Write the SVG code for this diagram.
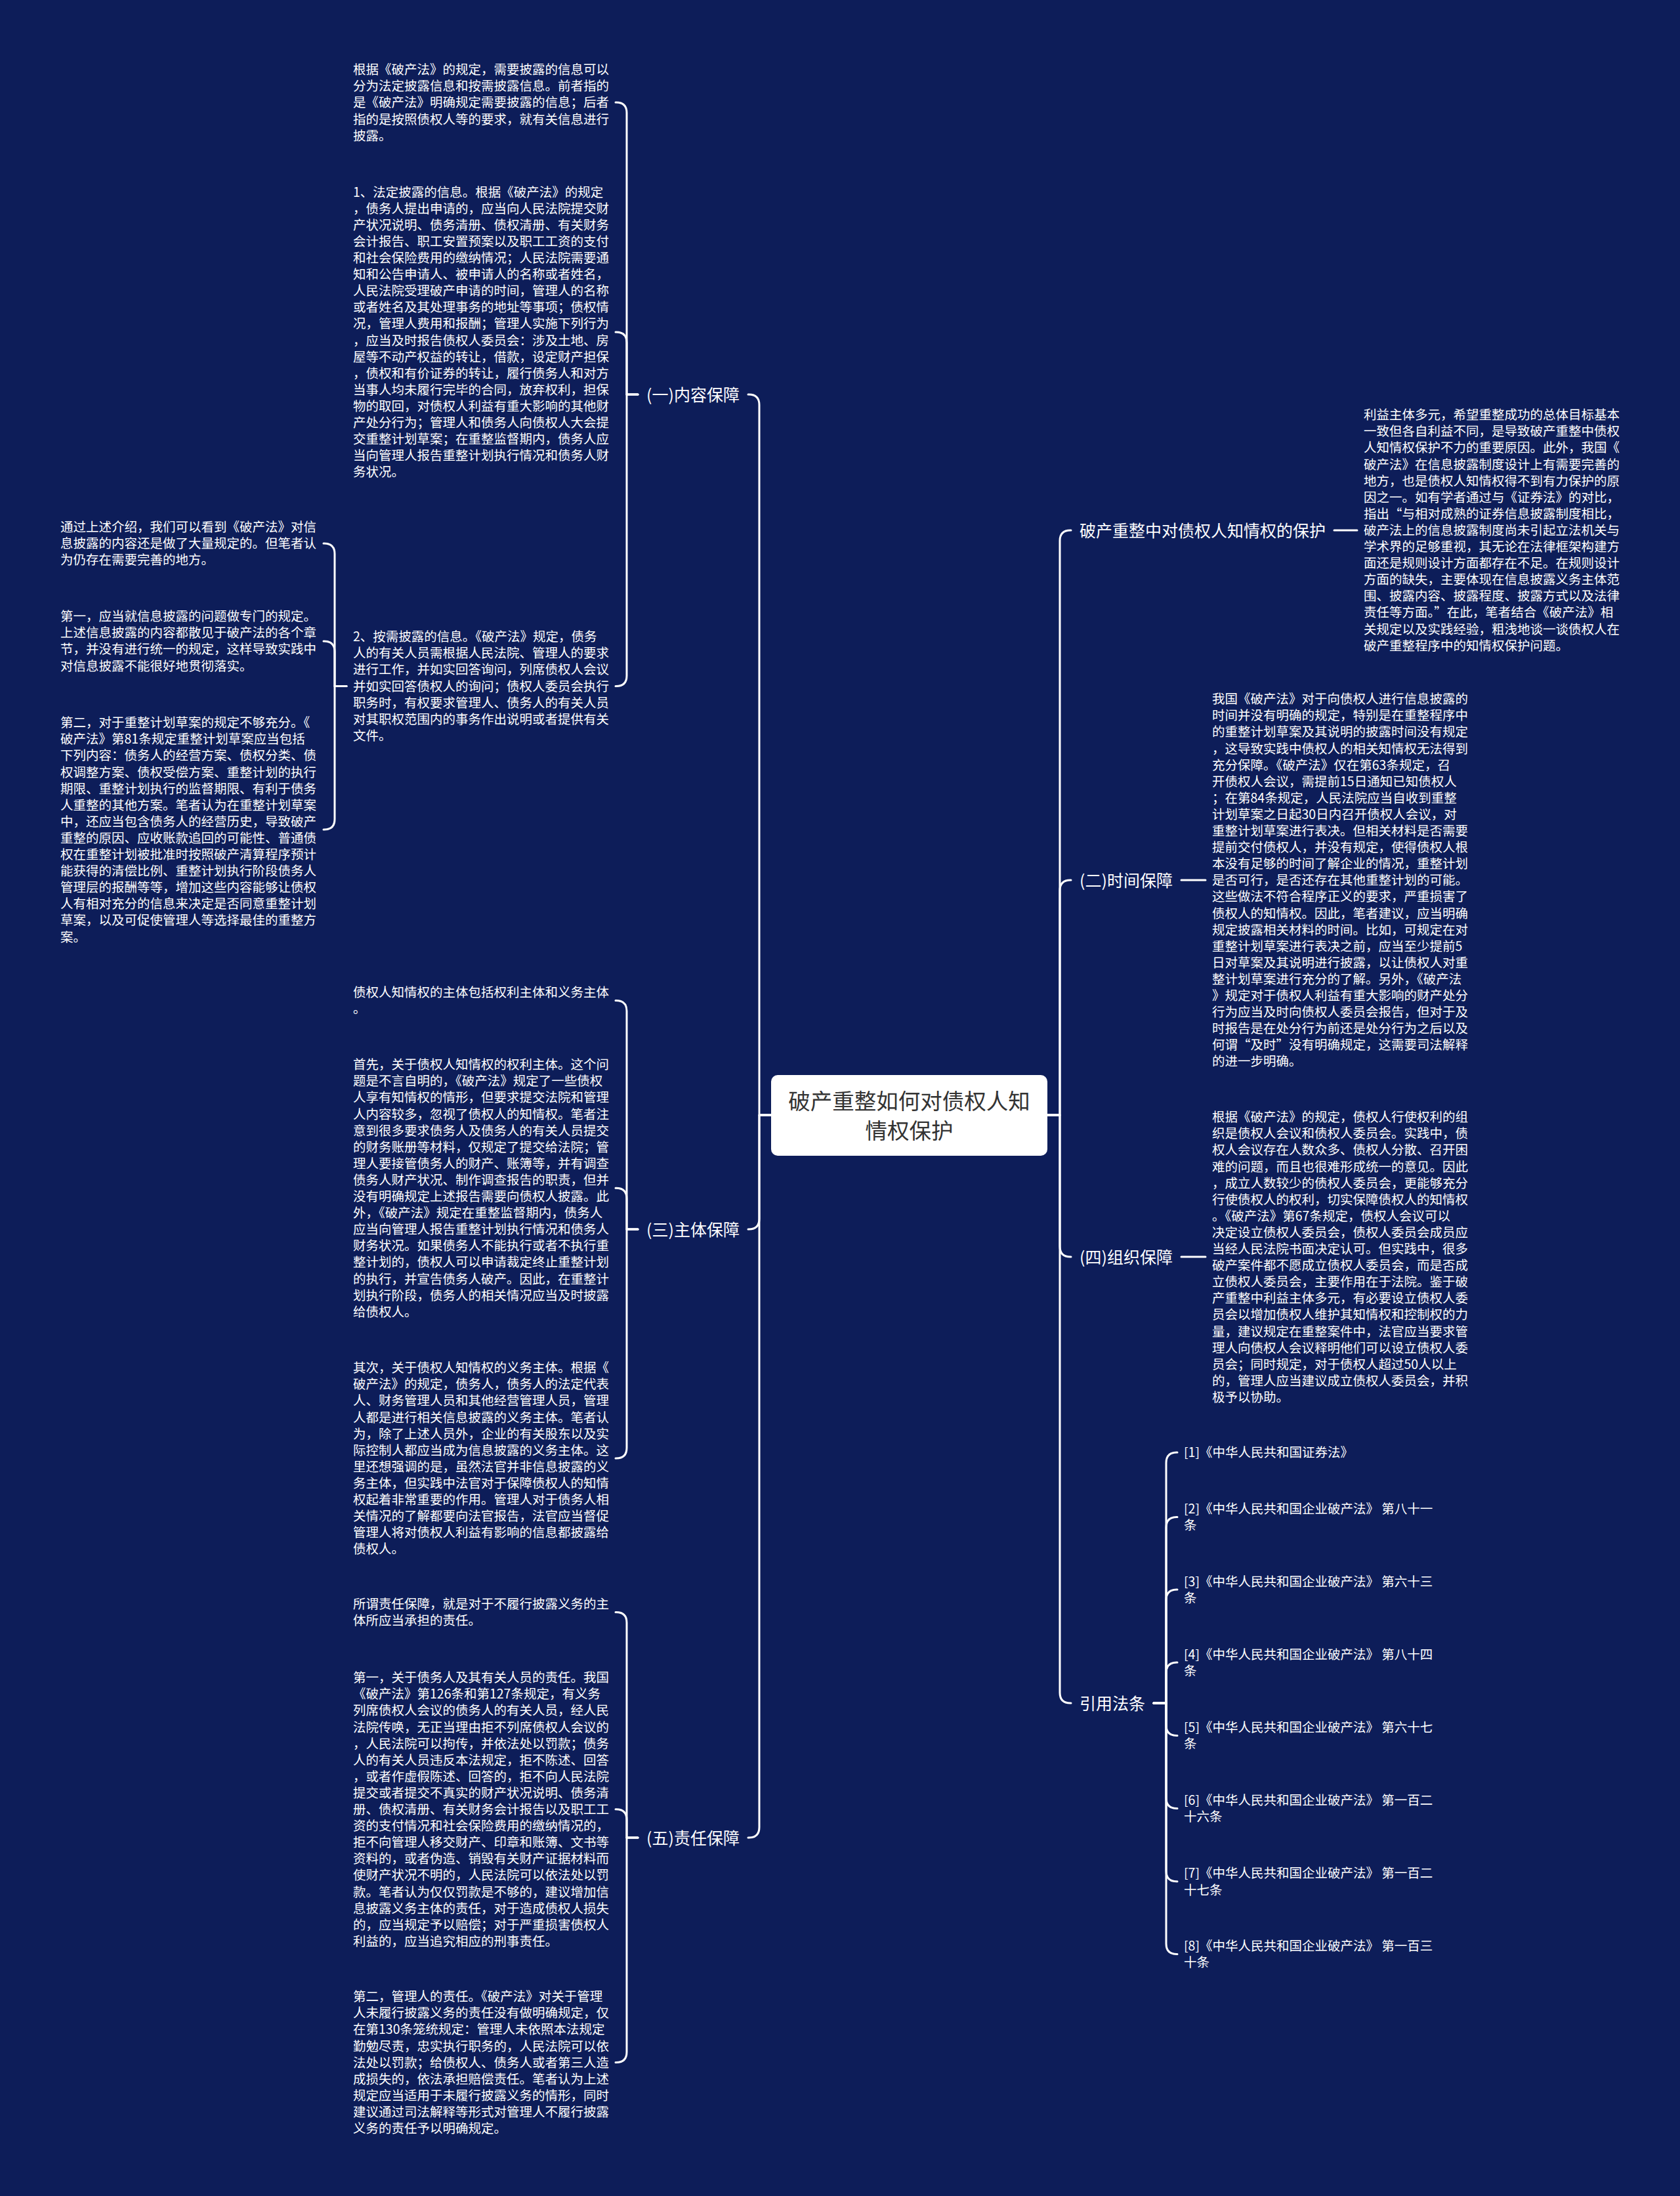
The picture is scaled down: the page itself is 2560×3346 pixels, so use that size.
<svg xmlns="http://www.w3.org/2000/svg" width="2560" height="3346" viewBox="0 0 2560 3346">
<style>
.t{font-family:"Noto Sans CJK SC","Noto Sans",sans-serif;font-size:19.5px;fill:#ffffff;}
.lbl{font-family:"Noto Sans CJK SC","Noto Sans",sans-serif;font-size:25px;fill:#ffffff;}
.ctr{font-family:"Noto Sans CJK SC","Noto Sans",sans-serif;font-size:33.5px;fill:#333333;text-anchor:middle;}
.c{fill:none;stroke:#ffffff;stroke-width:3;stroke-linecap:round;stroke-linejoin:round;}
</style>
<rect x="0" y="0" width="2560" height="3346" fill="#0d1d59"/>

<g id="connectors">
<path class="c" d="M1175 1699 H1157 V617 Q1157 601 1141 601 H1140"/>
<path class="c" d="M1175 1699 H1157 V1857 Q1157 1873 1141 1873 H1140"/>
<path class="c" d="M1175 1699 H1157 V2784 Q1157 2800 1141 2800 H1140"/>
<path class="c" d="M1596 1699 H1615 V824 Q1615 808 1631 808 H1632"/>
<path class="c" d="M1596 1699 H1615 V1357 Q1615 1341 1631 1341 H1632"/>
<path class="c" d="M1596 1699 H1615 V1899 Q1615 1915 1631 1915 H1632"/>
<path class="c" d="M1596 1699 H1615 V2579 Q1615 2595 1631 2595 H1632"/>
<path class="c" d="M972 601 H955 V172 Q955 156 939 156 H938"/>
<path class="c" d="M972 601 H955 V522 Q955 506 939 506 H938"/>
<path class="c" d="M972 601 H955 V1029.5 Q955 1045.5 939 1045.5 H938"/>
<path class="c" d="M528 1045.5 H510 V844 Q510 828 494 828 H493"/>
<path class="c" d="M528 1045.5 H510 V993 Q510 977 494 977 H493"/>
<path class="c" d="M528 1045.5 H510 V1248 Q510 1264 494 1264 H493"/>
<path class="c" d="M972 1873 H955 V1540.6 Q955 1524.6 939 1524.6 H938"/>
<path class="c" d="M972 1873 H955 V1826.3 Q955 1810.3 939 1810.3 H938"/>
<path class="c" d="M972 1873 H955 V2206 Q955 2222 939 2222 H938"/>
<path class="c" d="M972 2800 H955 V2472.6 Q955 2456.6 939 2456.6 H938"/>
<path class="c" d="M972 2800 H955 V2772.8 Q955 2756.8 939 2756.8 H938"/>
<path class="c" d="M972 2800 H955 V3126.4 Q955 3142.4 939 3142.4 H938"/>
<path class="c" d="M2033 808 H2068"/>
<path class="c" d="M1800 1341 H1837"/>
<path class="c" d="M1800 1915 H1837"/>
<path class="c" d="M1758 2595 H1777 V2229 Q1777 2213 1793 2213 H1794"/>
<path class="c" d="M1758 2595 H1777 V2327.4 Q1777 2311.4 1793 2311.4 H1794"/>
<path class="c" d="M1758 2595 H1777 V2438 Q1777 2422 1793 2422 H1794"/>
<path class="c" d="M1758 2595 H1777 V2549 Q1777 2533 1793 2533 H1794"/>
<path class="c" d="M1758 2595 H1777 V2628.5 Q1777 2644.5 1793 2644.5 H1794"/>
<path class="c" d="M1758 2595 H1777 V2739.4 Q1777 2755.4 1793 2755.4 H1794"/>
<path class="c" d="M1758 2595 H1777 V2850.8 Q1777 2866.8 1793 2866.8 H1794"/>
<path class="c" d="M1758 2595 H1777 V2961.6 Q1777 2977.6 1793 2977.6 H1794"/>
</g>

<g id="center">
<rect x="1175" y="1638" width="421" height="123" rx="10" ry="10" fill="#ffffff"/>
<text class="ctr" x="1385.5" y="1690">破产重整如何对债权人知<tspan x="1385.5" dy="45">情权保护</tspan></text>
</g>

<g id="branch-1">
<text class="lbl" x="1127" y="610.5" text-anchor="end">(一)内容保障</text>
</g>
<g id="branch-3">
<text class="lbl" x="1127" y="1882.5" text-anchor="end">(三)主体保障</text>
</g>
<g id="branch-5">
<text class="lbl" x="1127" y="2809.5" text-anchor="end">(五)责任保障</text>
</g>
<g id="branch-r1">
<text class="lbl" x="1645" y="817.5">破产重整中对债权人知情权的保护</text>
</g>
<g id="branch-2">
<text class="lbl" x="1645" y="1350.5">(二)时间保障</text>
</g>
<g id="branch-4">
<text class="lbl" x="1645" y="1924.5">(四)组织保障</text>
</g>
<g id="branch-ref">
<text class="lbl" x="1645" y="2604.5">引用法条</text>
</g>

<g id="node-a1">
<text class="t" x="538" y="113.2"><tspan x="538" dy="0">根据《破产法》的规定，需要披露的信息可以</tspan><tspan x="538" dy="25.1">分为法定披露信息和按需披露信息。前者指的</tspan><tspan x="538" dy="25.1">是《破产法》明确规定需要披露的信息；后者</tspan><tspan x="538" dy="25.1">指的是按照债权人等的要求，就有关信息进行</tspan><tspan x="538" dy="25.1">披露。</tspan></text>
</g>

<g id="node-a2">
<text class="t" x="538" y="299.6"><tspan x="538" dy="0">1、法定披露的信息。根据《破产法》的规定</tspan><tspan x="538" dy="25.1">，债务人提出申请的，应当向人民法院提交财</tspan><tspan x="538" dy="25.1">产状况说明、债务清册、债权清册、有关财务</tspan><tspan x="538" dy="25.1">会计报告、职工安置预案以及职工工资的支付</tspan><tspan x="538" dy="25.1">和社会保险费用的缴纳情况；人民法院需要通</tspan><tspan x="538" dy="25.1">知和公告申请人、被申请人的名称或者姓名，</tspan><tspan x="538" dy="25.1">人民法院受理破产申请的时间，管理人的名称</tspan><tspan x="538" dy="25.1">或者姓名及其处理事务的地址等事项；债权情</tspan><tspan x="538" dy="25.1">况，管理人费用和报酬；管理人实施下列行为</tspan><tspan x="538" dy="25.1">，应当及时报告债权人委员会：涉及土地、房</tspan><tspan x="538" dy="25.1">屋等不动产权益的转让，借款，设定财产担保</tspan><tspan x="538" dy="25.1">，债权和有价证券的转让，履行债务人和对方</tspan><tspan x="538" dy="25.1">当事人均未履行完毕的合同，放弃权利，担保</tspan><tspan x="538" dy="25.1">物的取回，对债权人利益有重大影响的其他财</tspan><tspan x="538" dy="25.1">产处分行为；管理人和债务人向债权人大会提</tspan><tspan x="538" dy="25.1">交重整计划草案；在重整监督期内，债务人应</tspan><tspan x="538" dy="25.1">当向管理人报告重整计划执行情况和债务人财</tspan><tspan x="538" dy="25.1">务状况。</tspan></text>
</g>

<g id="node-a3">
<text class="t" x="538" y="977.2"><tspan x="538" dy="0">2、按需披露的信息。《破产法》规定，债务</tspan><tspan x="538" dy="25.1">人的有关人员需根据人民法院、管理人的要求</tspan><tspan x="538" dy="25.1">进行工作，并如实回答询问，列席债权人会议</tspan><tspan x="538" dy="25.1">并如实回答债权人的询问；债权人委员会执行</tspan><tspan x="538" dy="25.1">职务时，有权要求管理人、债务人的有关人员</tspan><tspan x="538" dy="25.1">对其职权范围内的事务作出说明或者提供有关</tspan><tspan x="538" dy="25.1">文件。</tspan></text>
</g>

<g id="node-b1">
<text class="t" x="92" y="810.2"><tspan x="92" dy="0">通过上述介绍，我们可以看到《破产法》对信</tspan><tspan x="92" dy="25.1">息披露的内容还是做了大量规定的。但笔者认</tspan><tspan x="92" dy="25.1">为仍存在需要完善的地方。</tspan></text>
</g>

<g id="node-b2">
<text class="t" x="92" y="946.2"><tspan x="92" dy="0">第一，应当就信息披露的问题做专门的规定。</tspan><tspan x="92" dy="25.1">上述信息披露的内容都散见于破产法的各个章</tspan><tspan x="92" dy="25.1">节，并没有进行统一的规定，这样导致实践中</tspan><tspan x="92" dy="25.1">对信息披露不能很好地贯彻落实。</tspan></text>
</g>

<g id="node-b3">
<text class="t" x="92" y="1108.2"><tspan x="92" dy="0">第二，对于重整计划草案的规定不够充分。《</tspan><tspan x="92" dy="25.1">破产法》第81条规定重整计划草案应当包括</tspan><tspan x="92" dy="25.1">下列内容：债务人的经营方案、债权分类、债</tspan><tspan x="92" dy="25.1">权调整方案、债权受偿方案、重整计划的执行</tspan><tspan x="92" dy="25.1">期限、重整计划执行的监督期限、有利于债务</tspan><tspan x="92" dy="25.1">人重整的其他方案。笔者认为在重整计划草案</tspan><tspan x="92" dy="25.1">中，还应当包含债务人的经营历史，导致破产</tspan><tspan x="92" dy="25.1">重整的原因、应收账款追回的可能性、普通债</tspan><tspan x="92" dy="25.1">权在重整计划被批准时按照破产清算程序预计</tspan><tspan x="92" dy="25.1">能获得的清偿比例、重整计划执行阶段债务人</tspan><tspan x="92" dy="25.1">管理层的报酬等等，增加这些内容能够让债权</tspan><tspan x="92" dy="25.1">人有相对充分的信息来决定是否同意重整计划</tspan><tspan x="92" dy="25.1">草案，以及可促使管理人等选择最佳的重整方</tspan><tspan x="92" dy="25.1">案。</tspan></text>
</g>

<g id="node-c1">
<text class="t" x="538" y="1519.2"><tspan x="538" dy="0">债权人知情权的主体包括权利主体和义务主体</tspan><tspan x="538" dy="25.1">。</tspan></text>
</g>

<g id="node-c2">
<text class="t" x="538" y="1629.2"><tspan x="538" dy="0">首先，关于债权人知情权的权利主体。这个问</tspan><tspan x="538" dy="25.1">题是不言自明的，《破产法》规定了一些债权</tspan><tspan x="538" dy="25.1">人享有知情权的情形，但要求提交法院和管理</tspan><tspan x="538" dy="25.1">人内容较多，忽视了债权人的知情权。笔者注</tspan><tspan x="538" dy="25.1">意到很多要求债务人及债务人的有关人员提交</tspan><tspan x="538" dy="25.1">的财务账册等材料，仅规定了提交给法院；管</tspan><tspan x="538" dy="25.1">理人要接管债务人的财产、账簿等，并有调查</tspan><tspan x="538" dy="25.1">债务人财产状况、制作调查报告的职责，但并</tspan><tspan x="538" dy="25.1">没有明确规定上述报告需要向债权人披露。此</tspan><tspan x="538" dy="25.1">外，《破产法》规定在重整监督期内，债务人</tspan><tspan x="538" dy="25.1">应当向管理人报告重整计划执行情况和债务人</tspan><tspan x="538" dy="25.1">财务状况。如果债务人不能执行或者不执行重</tspan><tspan x="538" dy="25.1">整计划的，债权人可以申请裁定终止重整计划</tspan><tspan x="538" dy="25.1">的执行，并宣告债务人破产。因此，在重整计</tspan><tspan x="538" dy="25.1">划执行阶段，债务人的相关情况应当及时披露</tspan><tspan x="538" dy="25.1">给债权人。</tspan></text>
</g>

<g id="node-c3">
<text class="t" x="538" y="2091.2"><tspan x="538" dy="0">其次，关于债权人知情权的义务主体。根据《</tspan><tspan x="538" dy="25.1">破产法》的规定，债务人，债务人的法定代表</tspan><tspan x="538" dy="25.1">人、财务管理人员和其他经营管理人员，管理</tspan><tspan x="538" dy="25.1">人都是进行相关信息披露的义务主体。笔者认</tspan><tspan x="538" dy="25.1">为，除了上述人员外，企业的有关股东以及实</tspan><tspan x="538" dy="25.1">际控制人都应当成为信息披露的义务主体。这</tspan><tspan x="538" dy="25.1">里还想强调的是，虽然法官并非信息披露的义</tspan><tspan x="538" dy="25.1">务主体，但实践中法官对于保障债权人的知情</tspan><tspan x="538" dy="25.1">权起着非常重要的作用。管理人对于债务人相</tspan><tspan x="538" dy="25.1">关情况的了解都要向法官报告，法官应当督促</tspan><tspan x="538" dy="25.1">管理人将对债权人利益有影响的信息都披露给</tspan><tspan x="538" dy="25.1">债权人。</tspan></text>
</g>

<g id="node-d1">
<text class="t" x="538" y="2451.2"><tspan x="538" dy="0">所谓责任保障，就是对于不履行披露义务的主</tspan><tspan x="538" dy="25.1">体所应当承担的责任。</tspan></text>
</g>

<g id="node-d2">
<text class="t" x="538" y="2563.2"><tspan x="538" dy="0">第一，关于债务人及其有关人员的责任。我国</tspan><tspan x="538" dy="25.1">《破产法》第126条和第127条规定，有义务</tspan><tspan x="538" dy="25.1">列席债权人会议的债务人的有关人员，经人民</tspan><tspan x="538" dy="25.1">法院传唤，无正当理由拒不列席债权人会议的</tspan><tspan x="538" dy="25.1">，人民法院可以拘传，并依法处以罚款；债务</tspan><tspan x="538" dy="25.1">人的有关人员违反本法规定，拒不陈述、回答</tspan><tspan x="538" dy="25.1">，或者作虚假陈述、回答的，拒不向人民法院</tspan><tspan x="538" dy="25.1">提交或者提交不真实的财产状况说明、债务清</tspan><tspan x="538" dy="25.1">册、债权清册、有关财务会计报告以及职工工</tspan><tspan x="538" dy="25.1">资的支付情况和社会保险费用的缴纳情况的，</tspan><tspan x="538" dy="25.1">拒不向管理人移交财产、印章和账簿、文书等</tspan><tspan x="538" dy="25.1">资料的，或者伪造、销毁有关财产证据材料而</tspan><tspan x="538" dy="25.1">使财产状况不明的，人民法院可以依法处以罚</tspan><tspan x="538" dy="25.1">款。笔者认为仅仅罚款是不够的，建议增加信</tspan><tspan x="538" dy="25.1">息披露义务主体的责任，对于造成债权人损失</tspan><tspan x="538" dy="25.1">的，应当规定予以赔偿；对于严重损害债权人</tspan><tspan x="538" dy="25.1">利益的，应当追究相应的刑事责任。</tspan></text>
</g>

<g id="node-d3">
<text class="t" x="538" y="3049.2"><tspan x="538" dy="0">第二，管理人的责任。《破产法》对关于管理</tspan><tspan x="538" dy="25.1">人未履行披露义务的责任没有做明确规定，仅</tspan><tspan x="538" dy="25.1">在第130条笼统规定：管理人未依照本法规定</tspan><tspan x="538" dy="25.1">勤勉尽责，忠实执行职务的，人民法院可以依</tspan><tspan x="538" dy="25.1">法处以罚款；给债权人、债务人或者第三人造</tspan><tspan x="538" dy="25.1">成损失的，依法承担赔偿责任。笔者认为上述</tspan><tspan x="538" dy="25.1">规定应当适用于未履行披露义务的情形，同时</tspan><tspan x="538" dy="25.1">建议通过司法解释等形式对管理人不履行披露</tspan><tspan x="538" dy="25.1">义务的责任予以明确规定。</tspan></text>
</g>

<g id="node-r1">
<text class="t" x="2078" y="639.2"><tspan x="2078" dy="0">利益主体多元，希望重整成功的总体目标基本</tspan><tspan x="2078" dy="25.1">一致但各自利益不同，是导致破产重整中债权</tspan><tspan x="2078" dy="25.1">人知情权保护不力的重要原因。此外，我国《</tspan><tspan x="2078" dy="25.1">破产法》在信息披露制度设计上有需要完善的</tspan><tspan x="2078" dy="25.1">地方，也是债权人知情权得不到有力保护的原</tspan><tspan x="2078" dy="25.1">因之一。如有学者通过与《证券法》的对比，</tspan><tspan x="2078" dy="25.1">指出“与相对成熟的证券信息披露制度相比，</tspan><tspan x="2078" dy="25.1">破产法上的信息披露制度尚未引起立法机关与</tspan><tspan x="2078" dy="25.1">学术界的足够重视，其无论在法律框架构建方</tspan><tspan x="2078" dy="25.1">面还是规则设计方面都存在不足。在规则设计</tspan><tspan x="2078" dy="25.1">方面的缺失，主要体现在信息披露义务主体范</tspan><tspan x="2078" dy="25.1">围、披露内容、披露程度、披露方式以及法律</tspan><tspan x="2078" dy="25.1">责任等方面。”在此，笔者结合《破产法》相</tspan><tspan x="2078" dy="25.1">关规定以及实践经验，粗浅地谈一谈债权人在</tspan><tspan x="2078" dy="25.1">破产重整程序中的知情权保护问题。</tspan></text>
</g>

<g id="node-r2">
<text class="t" x="1847" y="1072.2"><tspan x="1847" dy="0">我国《破产法》对于向债权人进行信息披露的</tspan><tspan x="1847" dy="25.1">时间并没有明确的规定，特别是在重整程序中</tspan><tspan x="1847" dy="25.1">的重整计划草案及其说明的披露时间没有规定</tspan><tspan x="1847" dy="25.1">，这导致实践中债权人的相关知情权无法得到</tspan><tspan x="1847" dy="25.1">充分保障。《破产法》仅在第63条规定，召</tspan><tspan x="1847" dy="25.1">开债权人会议，需提前15日通知已知债权人</tspan><tspan x="1847" dy="25.1">；在第84条规定，人民法院应当自收到重整</tspan><tspan x="1847" dy="25.1">计划草案之日起30日内召开债权人会议，对</tspan><tspan x="1847" dy="25.1">重整计划草案进行表决。但相关材料是否需要</tspan><tspan x="1847" dy="25.1">提前交付债权人，并没有规定，使得债权人根</tspan><tspan x="1847" dy="25.1">本没有足够的时间了解企业的情况，重整计划</tspan><tspan x="1847" dy="25.1">是否可行，是否还存在其他重整计划的可能。</tspan><tspan x="1847" dy="25.1">这些做法不符合程序正义的要求，严重损害了</tspan><tspan x="1847" dy="25.1">债权人的知情权。因此，笔者建议，应当明确</tspan><tspan x="1847" dy="25.1">规定披露相关材料的时间。比如，可规定在对</tspan><tspan x="1847" dy="25.1">重整计划草案进行表决之前，应当至少提前5</tspan><tspan x="1847" dy="25.1">日对草案及其说明进行披露，以让债权人对重</tspan><tspan x="1847" dy="25.1">整计划草案进行充分的了解。另外，《破产法</tspan><tspan x="1847" dy="25.1">》规定对于债权人利益有重大影响的财产处分</tspan><tspan x="1847" dy="25.1">行为应当及时向债权人委员会报告，但对于及</tspan><tspan x="1847" dy="25.1">时报告是在处分行为前还是处分行为之后以及</tspan><tspan x="1847" dy="25.1">何谓“及时”没有明确规定，这需要司法解释</tspan><tspan x="1847" dy="25.1">的进一步明确。</tspan></text>
</g>

<g id="node-r3">
<text class="t" x="1847" y="1709.2"><tspan x="1847" dy="0">根据《破产法》的规定，债权人行使权利的组</tspan><tspan x="1847" dy="25.1">织是债权人会议和债权人委员会。实践中，债</tspan><tspan x="1847" dy="25.1">权人会议存在人数众多、债权人分散、召开困</tspan><tspan x="1847" dy="25.1">难的问题，而且也很难形成统一的意见。因此</tspan><tspan x="1847" dy="25.1">，成立人数较少的债权人委员会，更能够充分</tspan><tspan x="1847" dy="25.1">行使债权人的权利，切实保障债权人的知情权</tspan><tspan x="1847" dy="25.1">。《破产法》第67条规定，债权人会议可以</tspan><tspan x="1847" dy="25.1">决定设立债权人委员会，债权人委员会成员应</tspan><tspan x="1847" dy="25.1">当经人民法院书面决定认可。但实践中，很多</tspan><tspan x="1847" dy="25.1">破产案件都不愿成立债权人委员会，而是否成</tspan><tspan x="1847" dy="25.1">立债权人委员会，主要作用在于法院。鉴于破</tspan><tspan x="1847" dy="25.1">产重整中利益主体多元，有必要设立债权人委</tspan><tspan x="1847" dy="25.1">员会以增加债权人维护其知情权和控制权的力</tspan><tspan x="1847" dy="25.1">量，建议规定在重整案件中，法官应当要求管</tspan><tspan x="1847" dy="25.1">理人向债权人会议释明他们可以设立债权人委</tspan><tspan x="1847" dy="25.1">员会；同时规定，对于债权人超过50人以上</tspan><tspan x="1847" dy="25.1">的，管理人应当建议成立债权人委员会，并积</tspan><tspan x="1847" dy="25.1">极予以协助。</tspan></text>
</g>

<g id="ref-1"><text class="t" x="1804" y="2220.2">[1]《中华人民共和国证券法》</text></g>
<g id="ref-2"><text class="t" x="1804" y="2306"><tspan x="1804" dy="0">[2]《中华人民共和国企业破产法》 第八十一</tspan><tspan x="1804" dy="25.1">条</tspan></text></g>
<g id="ref-3"><text class="t" x="1804" y="2417"><tspan x="1804" dy="0">[3]《中华人民共和国企业破产法》 第六十三</tspan><tspan x="1804" dy="25.1">条</tspan></text></g>
<g id="ref-4"><text class="t" x="1804" y="2527.7"><tspan x="1804" dy="0">[4]《中华人民共和国企业破产法》 第八十四</tspan><tspan x="1804" dy="25.1">条</tspan></text></g>
<g id="ref-5"><text class="t" x="1804" y="2639.2"><tspan x="1804" dy="0">[5]《中华人民共和国企业破产法》 第六十七</tspan><tspan x="1804" dy="25.1">条</tspan></text></g>
<g id="ref-6"><text class="t" x="1804" y="2750"><tspan x="1804" dy="0">[6]《中华人民共和国企业破产法》 第一百二</tspan><tspan x="1804" dy="25.1">十六条</tspan></text></g>
<g id="ref-7"><text class="t" x="1804" y="2861.4"><tspan x="1804" dy="0">[7]《中华人民共和国企业破产法》 第一百二</tspan><tspan x="1804" dy="25.1">十七条</tspan></text></g>
<g id="ref-8"><text class="t" x="1804" y="2972.3"><tspan x="1804" dy="0">[8]《中华人民共和国企业破产法》 第一百三</tspan><tspan x="1804" dy="25.1">十条</tspan></text></g>
</svg>
